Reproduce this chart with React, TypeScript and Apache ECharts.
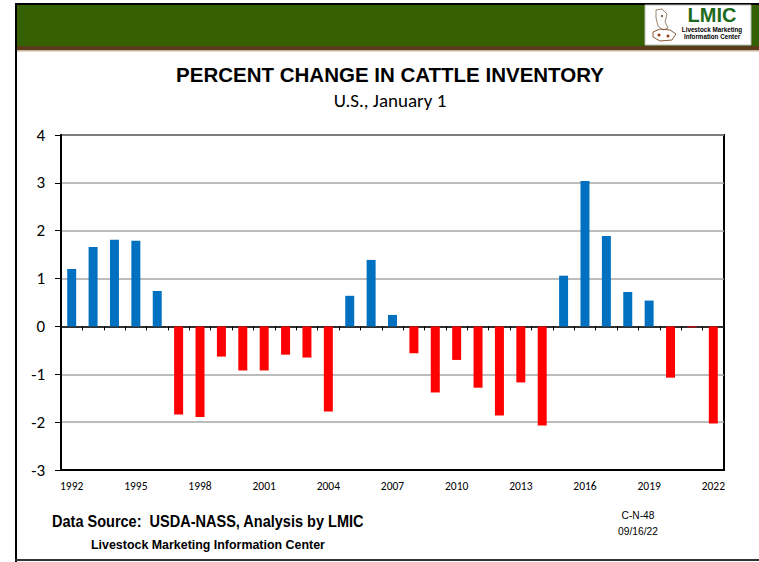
import React, { useEffect, useRef } from "react";
import * as echarts from "echarts";

const years: string[] = [
  "1992", "1993", "1994", "1995", "1996", "1997", "1998", "1999", "2000", "2001",
  "2002", "2003", "2004", "2005", "2006", "2007", "2008", "2009", "2010", "2011",
  "2012", "2013", "2014", "2015", "2016", "2017", "2018", "2019", "2020", "2021", "2022",
];

const pctChange: number[] = [
  1.2, 1.66, 1.81, 1.79, 0.74, -1.84, -1.89, -0.63, -0.92, -0.92,
  -0.59, -0.65, -1.78, 0.64, 1.39, 0.24, -0.56, -1.38, -0.7, -1.28,
  -1.86, -1.17, -2.07, 1.06, 3.04, 1.89, 0.72, 0.54, -1.07, -0.02, -2.03,
];

const yTicks = { min: -3, max: 4, interval: 1 };

const TITLE = "PERCENT CHANGE IN CATTLE INVENTORY";
const SUBTITLE = "U.S., January 1";
const SOURCE = "Data Source:  USDA-NASS, Analysis by LMIC";
const ORG = "Livestock Marketing Information Center";
const CODE = "C-N-48";
const DATE = "09/16/22";

const POS_COLOR = "#0070C0";
const NEG_COLOR = "#FF0000";
const CAL = "Carlito, Lato, 'Open Sans', sans-serif";
const ARIAL = "'Liberation Sans', Arial, sans-serif";

function narrowText(text: string, x: number, y: number, font: string, align: string, sx: number) {
  return {
    type: "text",
    x,
    y,
    scaleX: sx,
    style: {
      text,
      x: 0,
      y: 0,
      align,
      verticalAlign: "middle",
      font,
      fill: "#000",
    },
  };
}

export default function App() {
  const ref = useRef<HTMLDivElement>(null);

  useEffect(() => {
    if (!ref.current) return;
    const chart = echarts.init(ref.current, undefined, { renderer: "svg" });
    const option: any = {
      animation: false,
      backgroundColor: "#ffffff",
      grid: {
        left: 61,
        right: 35,
        top: 135,
        bottom: 92,
        show: true,
        borderColor: "#000",
        borderWidth: 2,
        backgroundColor: "transparent",
      },
      xAxis: [
        {
          type: "category",
          data: years,
          position: "bottom",
          axisLine: { onZero: false, lineStyle: { color: "#000", width: 2 } },
          axisTick: { show: false },
          axisLabel: {
            interval: 2,
            fontSize: 11.5,
            color: "#000",
            fontFamily: CAL,
            margin: 10,
          },
          splitLine: { show: false },
        },
        {
          type: "category",
          data: years,
          position: "top",
          axisLine: { onZero: true, lineStyle: { color: "#000", width: 1.5 } },
          axisTick: { show: true, inside: true, length: 4, interval: 0, lineStyle: { color: "#000", width: 1 } },
          axisLabel: { show: false },
          splitLine: { show: false },
        },
      ],
      yAxis: {
        type: "value",
        min: yTicks.min,
        max: yTicks.max,
        interval: yTicks.interval,
        axisLine: { show: true, lineStyle: { color: "#000", width: 2 } },
        axisTick: { show: true, length: 6, lineStyle: { color: "#000", width: 1 } },
        axisLabel: { fontSize: 17, color: "#000", fontFamily: CAL, margin: 16 },
        splitLine: { show: true, lineStyle: { color: "#A6A6A6", width: 1.5 } },
      },
      series: [
        {
          type: "bar",
          xAxisIndex: 0,
          data: pctChange,
          barWidth: "42%",
          itemStyle: {
            color: (p: any) => (p.value >= 0 ? POS_COLOR : NEG_COLOR),
          },
        },
      ],
      graphic: [
        // top green band
        { type: "rect", shape: { x: 16, y: 3, width: 743, height: 2 }, style: { fill: "#000" } },
        { type: "rect", shape: { x: 16, y: 5, width: 743, height: 41 }, style: { fill: "#356000" } },
        { type: "rect", shape: { x: 16, y: 46, width: 743, height: 4 }, style: { fill: "#5A3B1C" } },
        { type: "rect", shape: { x: 16, y: 50, width: 743, height: 1.5 }, style: { fill: "#C9B59A" } },
        // left border and bottom line
        { type: "rect", shape: { x: 15, y: 3, width: 2, height: 559 }, style: { fill: "#000" } },
        { type: "rect", shape: { x: 15, y: 559, width: 744, height: 2 }, style: { fill: "#333" } },
        // logo
        {
          type: "rect",
          shape: { x: 645, y: 5, width: 106, height: 40 },
          style: { fill: "#fff", stroke: "#bbb", lineWidth: 1 },
        },
        { type: "polyline", shape: { points: [[656, 10], [662, 9], [667, 14], [665, 22], [668, 28], [663, 30], [658, 26], [656, 18], [656, 10]] }, style: { fill: "none", stroke: "#9a8468", lineWidth: 1 } },
        { type: "polyline", shape: { points: [[653, 32], [660, 29], [670, 30], [676, 34], [672, 40], [660, 41], [653, 37], [653, 32]] }, style: { fill: "none", stroke: "#8a5a3a", lineWidth: 1 } },
        { type: "circle", shape: { cx: 659, cy: 35, r: 1.5 }, style: { fill: "#9a3a1a" } },
        { type: "circle", shape: { cx: 668, cy: 36, r: 1.5 }, style: { fill: "#9a3a1a" } },
        { type: "circle", shape: { cx: 662, cy: 16, r: 1.2 }, style: { fill: "#7a6040" } },
        {
          type: "text",
          style: {
            text: "LMIC",
            x: 712,
            y: 15,
            align: "center",
            verticalAlign: "middle",
            font: `900 20px ${ARIAL}`,
            fill: "#1E6B1E",
          },
        },
        narrowText("Livestock Marketing", 712, 29.5, `bold 7px ${ARIAL}`, "center", 0.9),
        narrowText("Information Center", 712, 36.5, `bold 7px ${ARIAL}`, "center", 0.9),
        // titles
        {
          type: "text",
          style: {
            text: TITLE,
            x: 390,
            y: 74,
            align: "center",
            verticalAlign: "middle",
            font: `bold 20.5px ${ARIAL}`,
            fill: "#000",
          },
        },
        {
          type: "text",
          style: {
            text: SUBTITLE,
            x: 390,
            y: 100,
            align: "center",
            verticalAlign: "middle",
            font: `19px ${CAL}`,
            fill: "#000",
          },
        },
        // footer
        narrowText(SOURCE, 52, 521, `bold 16.5px ${ARIAL}`, "left", 0.88),
        narrowText(ORG, 91, 544, `bold 13.5px ${ARIAL}`, "left", 0.92),
        narrowText(CODE, 638, 515, `11px ${ARIAL}`, "center", 0.93),
        narrowText(DATE, 638, 531, `11px ${ARIAL}`, "center", 0.93),
      ],
    };
    chart.setOption(option);
    return () => chart.dispose();
  }, []);

  return (
    <div
      ref={ref}
      style={{ position: "fixed", left: 0, top: 0, width: 759, height: 562 }}
    />
  );
}
